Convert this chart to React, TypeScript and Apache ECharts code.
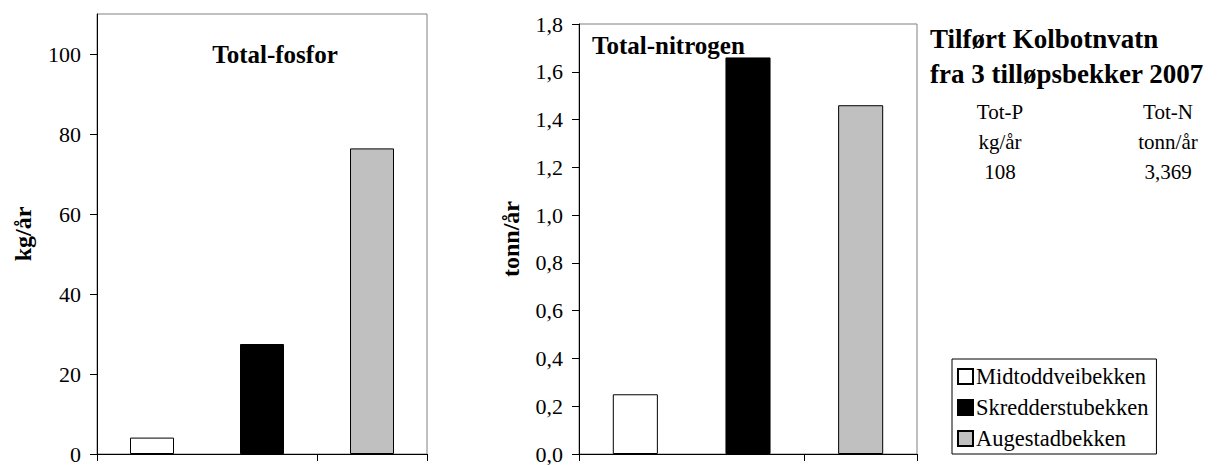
import React, { useEffect, useRef } from "react";
import * as echarts from "echarts";

const categories = ["Midtoddveibekken", "Skredderstubekken", "Augestadbekken"];
const barColors = ["#ffffff", "#000000", "#c0c0c0"];
const phosphorusKg = [4.1, 27.5, 76.4];
const nitrogenTonn = [0.25, 1.66, 1.46];
const phosphorusTicks = [0, 20, 40, 60, 80, 100];
const nitrogenTicks = [0, 0.2, 0.4, 0.6, 0.8, 1.0, 1.2, 1.4, 1.6, 1.8];
const headerLines = ["Tilført Kolbotnvatn", "fra 3 tilløpsbekker 2007"];
const summaryP = ["Tot-P", "kg/år", "108"];
const summaryN = ["Tot-N", "tonn/år", "3,369"];

const FONT = "'Liberation Serif', 'Times New Roman', serif";

function makeSeries(values: number[], axisIndex: number) {
  return categories.map((name, i) => ({
    type: "bar",
    name,
    xAxisIndex: axisIndex,
    yAxisIndex: axisIndex,
    barWidth: "40%",
    barGap: "-100%",
    data: categories.map((_, j) => (j === i ? values[i] : "-")),
    itemStyle: { color: barColors[i], borderColor: "#000000", borderWidth: 1 },
  }));
}

function xAxisFor(gridIndex: number) {
  return {
    type: "category",
    gridIndex,
    data: categories,
    boundaryGap: true,
    axisLine: { show: true, lineStyle: { color: "#000000", width: 1 } },
    axisTick: { show: true, length: 7, inside: false, alignWithLabel: false, lineStyle: { color: "#000000" } },
    axisLabel: { show: false },
    splitLine: { show: false },
  };
}

export default function App() {
  const ref = useRef<HTMLDivElement>(null);
  useEffect(() => {
    if (!ref.current) return;
    const chart = echarts.init(ref.current, null, { renderer: "svg" });
    const labelStyle = { color: "#000000", fontFamily: FONT, fontSize: 22 };
    const nameStyle = { color: "#000000", fontFamily: FONT, fontSize: 24, fontWeight: "bold" };
    const textEl = (text: string, x: number, y: number, size: number, bold: boolean, align: string) => ({
      type: "text",
      x,
      y,
      style: {
        text,
        fill: "#000000",
        font: `${bold ? "bold " : ""}${size}px ${FONT}`,
        textAlign: align,
        textVerticalAlign: "middle",
      },
    });
    chart.setOption({
      animation: false,
      backgroundColor: "#ffffff",
      grid: [
        { left: 97, top: 14, width: 330, height: 445, show: true, borderColor: "#808080", borderWidth: 1, backgroundColor: "transparent" },
        { left: 579, top: 24, width: 338, height: 432, show: true, borderColor: "#808080", borderWidth: 1, backgroundColor: "transparent" },
      ],
      xAxis: [xAxisFor(0), xAxisFor(1)],
      yAxis: [
        {
          type: "value",
          gridIndex: 0,
          min: 0,
          max: 110,
          interval: 20,
          name: "kg/år",
          nameLocation: "middle",
          nameGap: 62,
          nameTextStyle: nameStyle,
          axisLine: { show: true, lineStyle: { color: "#000000" } },
          axisTick: { show: true, length: 7, customValues: phosphorusTicks, lineStyle: { color: "#000000" } },
          axisLabel: { ...labelStyle, margin: 16, customValues: phosphorusTicks },
          splitLine: { show: false },
        },
        {
          type: "value",
          gridIndex: 1,
          min: 0,
          max: 1.8,
          interval: 0.2,
          name: "tonn/år",
          nameLocation: "middle",
          nameGap: 56,
          nameTextStyle: nameStyle,
          axisLine: { show: true, lineStyle: { color: "#000000" } },
          axisTick: { show: true, length: 7, customValues: nitrogenTicks, lineStyle: { color: "#000000" } },
          axisLabel: {
            ...labelStyle,
            margin: 16,
            customValues: nitrogenTicks,
            formatter: (v: number) => v.toFixed(1).replace(".", ","),
          },
          splitLine: { show: false },
        },
      ],
      legend: {
        orient: "vertical",
        left: 952,
        top: 359,
        data: categories,
        icon: "rect",
        itemWidth: 15,
        itemHeight: 15,
        itemGap: 8,
        borderColor: "#000000",
        borderWidth: 1,
        padding: [6, 8, 4, 5],
        backgroundColor: "#ffffff",
        textStyle: { color: "#000000", fontFamily: FONT, fontSize: 22.5, padding: [0, 0, 0, -2] },
        selectedMode: false,
      },
      graphic: [
        textEl("Total-fosfor", 275, 54, 25, true, "center"),
        textEl("Total-nitrogen", 592, 45, 25, true, "left"),
        textEl(headerLines[0], 930, 39, 27, true, "left"),
        textEl(headerLines[1], 930, 74, 27, true, "left"),
        ...summaryP.map((t, i) => textEl(t, 1000, 112 + i * 30, 21, false, "center")),
        ...summaryN.map((t, i) => textEl(t, 1168, 112 + i * 30, 21, false, "center")),
      ],
      series: [...makeSeries(phosphorusKg, 0), ...makeSeries(nitrogenTonn, 1)],
    });
    return () => chart.dispose();
  }, []);
  return <div ref={ref} style={{ position: "absolute", left: 0, top: 0, width: 1220, height: 465 }} />;
}
